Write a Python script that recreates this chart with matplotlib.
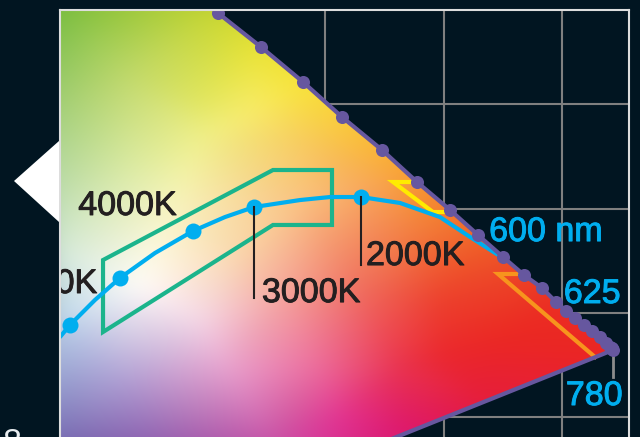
import numpy as np
import matplotlib
matplotlib.use("Agg")
import matplotlib.pyplot as plt
import matplotlib.tri as mtri
import matplotlib.patheffects as pe
from matplotlib.patches import Polygon

# ---------------- data (CIE xy chromaticity) ----------------
# spectral locus, off-view part (standard CIE 1931 values)
offview_nm = [380, 460, 480, 490, 500, 510, 520, 530, 540, 550, 560]
offview_x = [0.1741, 0.1440, 0.0913, 0.0454, 0.0082, 0.0139, 0.0743, 0.1547, 0.2296, 0.3016, 0.3731]
offview_y = [0.0050, 0.0297, 0.1327, 0.2950, 0.5384, 0.7502, 0.8338, 0.8059, 0.7543, 0.6923, 0.6245]

# spectral locus dots visible in the chart
dot_nm = [565, 570, 575, 580, 585, 590, 595, 600, 605, 610, 615, 620,
          625, 630, 635, 640, 645, 650, 655, 660, 680, 780]
dot_x = [0.4097, 0.4460, 0.4814, 0.5144, 0.5481, 0.5776, 0.6055, 0.6291,
         0.6502, 0.6679, 0.6831, 0.6949, 0.7034, 0.7110, 0.7186, 0.7253,
         0.7321, 0.7371, 0.7405, 0.7418, 0.7425, 0.7430]
dot_y = [0.5876, 0.5550, 0.5215, 0.4879, 0.4563, 0.4256, 0.3988, 0.3748,
         0.3537, 0.3364, 0.3240, 0.3105, 0.3019, 0.2952, 0.2885, 0.2827,
         0.2770, 0.2712, 0.2674, 0.2660, 0.2652, 0.2645]

# Planckian locus (blackbody curve) as drawn
bb_x = [0.2764, 0.2848, 0.3059, 0.3270, 0.3565, 0.3886, 0.4156, 0.4401,
        0.4789, 0.5042, 0.5304, 0.5633, 0.5970, 0.6224, 0.6502]
bb_y = [0.2770, 0.2885, 0.3125, 0.3336, 0.3575, 0.3786, 0.3920, 0.4016,
        0.4083, 0.4112, 0.4112, 0.4055, 0.3920, 0.3729, 0.3527]
cct_labels = ["6500K", "5000K", "4000K", "3000K", "2000K"]
cct_x = [0.2848, 0.3270, 0.3886, 0.4401, 0.5304]
cct_y = [0.2885, 0.3336, 0.3786, 0.4016, 0.4112]

# white tolerance region (green outline)
zone_x = [0.3127, 0.4561, 0.5059, 0.5059, 0.4561, 0.3127]
zone_y = [0.3508, 0.4371, 0.4371, 0.3844, 0.3844, 0.2818]
# amber region (yellow) and red region (orange)
amber_x = [0.5717, 0.5574, 0.5911, 0.6030]
amber_y = [0.4256, 0.4256, 0.3968, 0.3968]
red_x = [0.6620, 0.6460, 0.7278]
red_y = [0.3374, 0.3374, 0.2578]

# ---------------- gradient colour stops (x, y, rgb) ----------------
grad_stops = [
    (0.2550, 0.6200, (115, 186, 60)), (0.2550, 0.1200, (100, 85, 168)),
    (0.7800, 0.6200, (240, 150, 50)), (0.7800, 0.1200, (230, 30, 50)),
    (0.2722, 0.5953, (118, 188, 62)), (0.3523, 0.5953, (165, 203, 58)),
    (0.4072, 0.5886, (200, 215, 50)), (0.4451, 0.5522, (235, 228, 55)),
    (0.4789, 0.5186, (248, 228, 60)), (0.5127, 0.4870, (250, 205, 60)),
    (0.5464, 0.4563, (250, 180, 55)), (0.5759, 0.4256, (247, 155, 50)),
    (0.6055, 0.3968, (243, 125, 45)), (0.6308, 0.3729, (240, 100, 40)),
    (0.6646, 0.3393, (237, 70, 38)), (0.6983, 0.3077, (235, 45, 35)),
    (0.7447, 0.2626, (235, 38, 35)), (0.2722, 0.5042, (160, 205, 115)),
    (0.2722, 0.4275, (185, 218, 165)), (0.2722, 0.3604, (210, 232, 215)),
    (0.2722, 0.2933, (185, 212, 235)), (0.2722, 0.2358, (150, 160, 208)),
    (0.2722, 0.1782, (118, 108, 178)), (0.2722, 0.1399, (105, 90, 170)),
    (0.3354, 0.5234, (195, 218, 110)), (0.3945, 0.5042, (225, 230, 95)),
    (0.3354, 0.4371, (220, 235, 165)), (0.3945, 0.4659, (240, 240, 140)),
    (0.4367, 0.4946, (248, 236, 105)), (0.4789, 0.4659, (248, 205, 95)),
    (0.3692, 0.3988, (248, 245, 195)), (0.3439, 0.3268, (255, 252, 248)),
    (0.4283, 0.3604, (250, 215, 170)), (0.4789, 0.4083, (250, 195, 130)),
    (0.5380, 0.4179, (248, 165, 90)), (0.5802, 0.3796, (243, 125, 60)),
    (0.3945, 0.2933, (245, 215, 230)), (0.4620, 0.3125, (245, 165, 160)),
    (0.5295, 0.3221, (240, 110, 95)), (0.5970, 0.3125, (237, 65, 45)),
    (0.6477, 0.2741, (235, 40, 36)), (0.6000, 0.2600, (235, 40, 45)),
    (0.5500, 0.2800, (238, 75, 85)), (0.3270, 0.2358, (175, 160, 212)),
    (0.4198, 0.2453, (232, 160, 205)), (0.4958, 0.2453, (236, 105, 155)),
    (0.5633, 0.2453, (233, 50, 80)), (0.3523, 0.1782, (145, 100, 178)),
    (0.4536, 0.1782, (200, 85, 168)), (0.5127, 0.1974, (226, 50, 145)),
    (0.5633, 0.1878, (222, 25, 110)), (0.6308, 0.2166, (230, 30, 60)),
    (0.4789, 0.1399, (205, 60, 160)), (0.6055, 0.1399, (220, 20, 110)),
]

# ---------------- styling ----------------
BG = "#011521"
PURPLE = "#66579f"
BLUE = "#00aeef"
GREEN = "#1bb48c"
YELLOW = "#ffeb00"
ORANGE = "#f7941d"
INK = "#231f20"
FONT = ["Liberation Sans", "DejaVu Sans"]
FS = 24.5

fig = plt.figure(figsize=(6.4, 4.37), dpi=100, facecolor=BG)
ax = fig.add_axes([60 / 640, -33 / 437, 569 / 640, 460 / 437])
ax.set_facecolor(BG)
X0, X1, Y0, Y1 = 0.2764, 0.7565, 0.1495, 0.5905

# grid
ax.set_xticks([0.3, 0.4, 0.5, 0.6, 0.7])
ax.set_yticks([0.2, 0.3, 0.4, 0.5])
ax.grid(True, color="#7f7f7f", lw=1.5, zorder=0)
ax.set_axisbelow(True)
ax.tick_params(length=0, labelbottom=False, labelleft=False)
for s in ax.spines.values():
    s.set_color("#dddddd")
    s.set_linewidth(1.5)
    s.set_zorder(10)

# gamut gradient fill (linear interpolation between colour stops, then smoothed)
gx = np.linspace(X0 - 0.01, X1 + 0.01, 400)
gy = np.linspace(Y0 - 0.01, Y1 + 0.01, 370)
GX, GY = np.meshgrid(gx, gy)
sx = np.array([s[0] for s in grad_stops])
sy = np.array([s[1] for s in grad_stops])
sc = np.array([s[2] for s in grad_stops], dtype=float) / 255.0
tri = mtri.Triangulation(sx, sy)
img = np.zeros(GX.shape + (3,))
for k in range(3):
    interp = mtri.LinearTriInterpolator(tri, sc[:, k])
    v = interp(GX, GY)
    img[..., k] = np.ma.filled(v, np.nanmean(sc[:, k]))


def blur(a, sigma):
    r = int(3 * sigma)
    kern = np.exp(-0.5 * (np.arange(-r, r + 1) / sigma) ** 2)
    kern /= kern.sum()
    p = np.pad(a, ((r, r), (r, r)), mode="edge")
    p = np.apply_along_axis(lambda m: np.convolve(m, kern, mode="valid"), 0, p)
    p = np.apply_along_axis(lambda m: np.convolve(m, kern, mode="valid"), 1, p)
    return p


for k in range(3):
    img[..., k] = blur(img[..., k], 7)
img = np.clip(img, 0, 1)

full_x = offview_x + dot_x
full_y = offview_y + dot_y
gamut = Polygon(np.column_stack([full_x, full_y]), closed=True,
                transform=ax.transData)
im = ax.imshow(img, extent=[gx[0], gx[-1], gy[0], gy[-1]], origin="lower",
               aspect="auto", interpolation="bilinear", zorder=1)
im.set_clip_path(gamut)

# region outlines
ax.add_patch(Polygon(np.column_stack([zone_x, zone_y]), closed=True, fill=False,
                     ec=GREEN, lw=3, zorder=3, joinstyle="miter"))
ax.plot(amber_x, amber_y, color=YELLOW, lw=3, zorder=3, solid_joinstyle="miter")
ax.plot(red_x, red_y, color=ORANGE, lw=3, zorder=3, solid_joinstyle="miter")

# blackbody curve
ax.plot(bb_x, bb_y, color=BLUE, lw=3, zorder=4, solid_capstyle="round")
ax.plot(cct_x, cct_y, "o", color=BLUE, ms=11.5, mew=0, zorder=4)

# spectral locus boundary and line of purples
lx = offview_x[-3:] + dot_x + [offview_x[0]]
ly = offview_y[-3:] + dot_y + [offview_y[0]]
ax.plot(lx, ly, color=PURPLE, lw=3, zorder=5, solid_joinstyle="round")
ax.plot(dot_x, dot_y, "o", color=PURPLE, ms=9.4, mew=0, zorder=5)

# CCT labels with leader lines
def fx(c):
    return [pe.withStroke(linewidth=0.7, foreground=c)]


tk = dict(color=INK, fontsize=FS, family=FONT, zorder=7, path_effects=fx(INK))
ax.plot([cct_x[3], cct_x[3]], [cct_y[3], 0.3144], color=INK, lw=1.5, zorder=6)
ax.plot([cct_x[4], cct_x[4]], [cct_y[4], 0.3460], color=INK, lw=1.5, zorder=6)
ax.text(0.4468, 0.3105, cct_labels[3], ha="left", va="baseline", **tk)
ax.text(0.5346, 0.3460, cct_labels[4], ha="left", va="baseline", **tk)
ax.text(0.2918, 0.3940, cct_labels[2], ha="left", va="baseline", **tk)
t5 = ax.text(0.3080, 0.3192, cct_labels[1], ha="right", va="baseline", **tk)
t5.set_clip_on(True)

# wavelength labels
wk = dict(color=BLUE, fontsize=FS, family=FONT, zorder=7, ha="left",
          va="baseline", path_effects=fx(BLUE))
ax.text(0.6385, 0.3690, "600 nm", **wk)
ax.text(0.7015, 0.3096, "625", **wk)
ax.text(0.7032, 0.2118, "780", **wk)
ax.plot([dot_x[-1], dot_x[-1]], [0.2578, 0.2386], color="#8c8c8c", lw=2, zorder=4)

ax.set_xlim(X0, X1)
ax.set_ylim(Y0, Y1)

# decorations outside the plot
arrow = Polygon([(14 / 640, 1 - 181 / 437), (59 / 640, 1 - 141 / 437),
                 (59 / 640, 1 - 222 / 437)], closed=True, fc="white", ec="none",
                transform=fig.transFigure)
fig.add_artist(arrow)
fig.text(3 / 640, -15 / 437, "8", color="#e8ecef", fontsize=FS, family=FONT,
         va="baseline", ha="left")

fig.savefig("out.png", dpi=100, facecolor=BG)
